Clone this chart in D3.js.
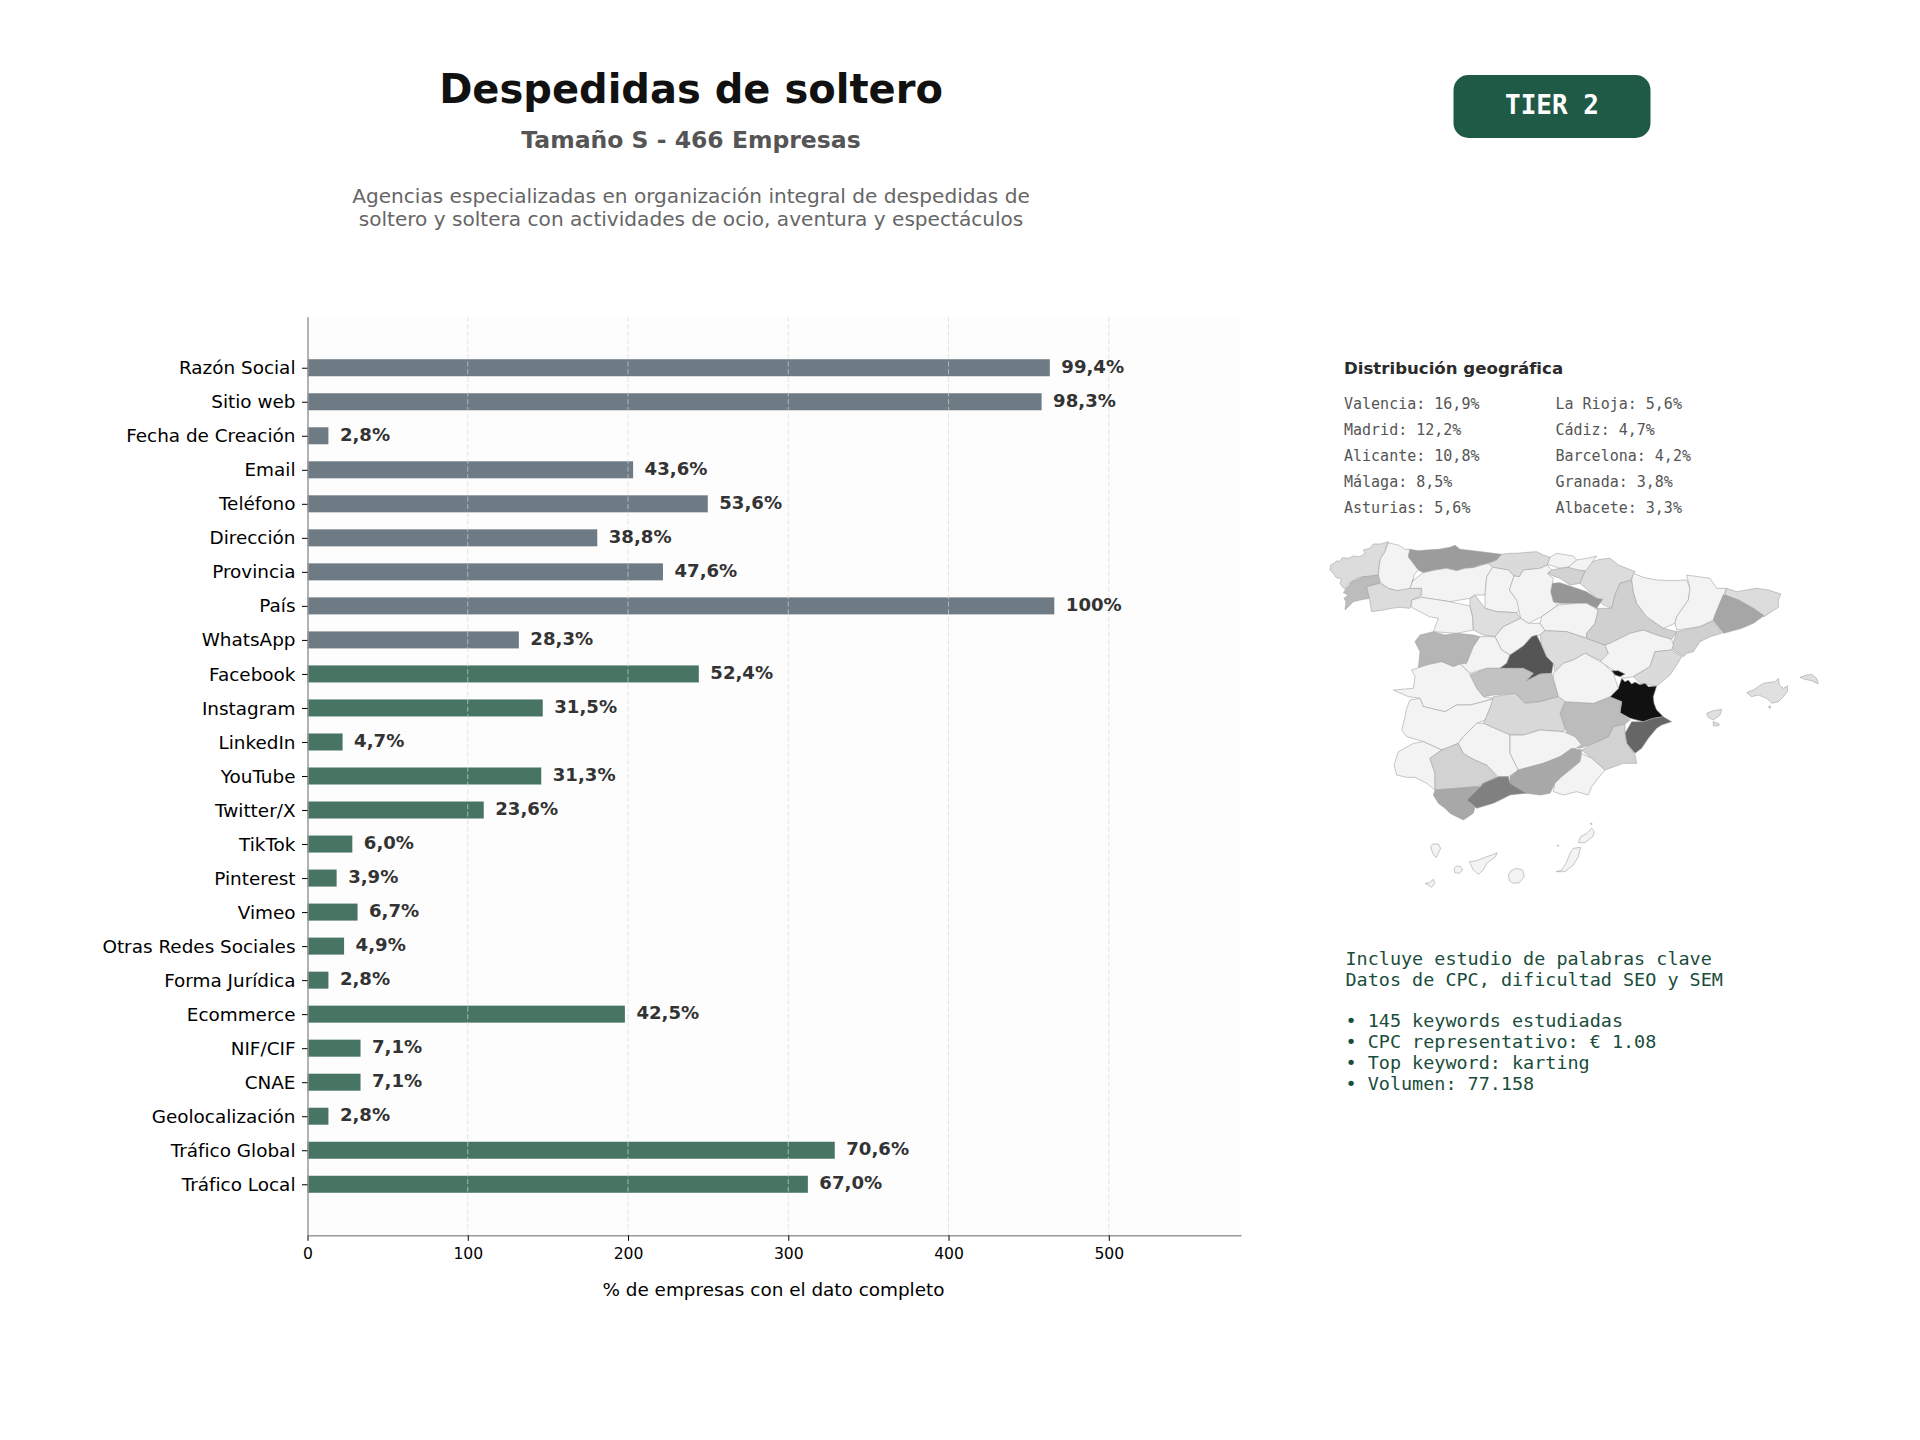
<!DOCTYPE html>
<html lang="es">
<head>
<meta charset="utf-8">
<title>Despedidas de soltero</title>
<script src="https://cdn.jsdelivr.net/npm/d3@7"></script>
<style>
  html, body { margin: 0; padding: 0; background: #fff; }
  svg { display: block; font-family: "DejaVu Sans", sans-serif; }
  .mono { font-family: "DejaVu Sans Mono", monospace; }
</style>
</head>
<body>
<div id="chart"></div>
<script>
// Campos de la ficha y porcentaje de empresas con el dato completo
const totalEmpresas = 466;
const contactFields = ["Razón Social","Sitio web","Fecha de Creación","Email","Teléfono","Dirección","Provincia","País","WhatsApp"];
const contactPct = [99.4,98.3,2.8,43.6,53.6,38.8,47.6,100,28.3];
const contactLabels = ["99,4%","98,3%","2,8%","43,6%","53,6%","38,8%","47,6%","100%","28,3%"];
const digitalFields = ["Facebook","Instagram","LinkedIn","YouTube","Twitter/X","TikTok","Pinterest","Vimeo","Otras Redes Sociales","Forma Jurídica","Ecommerce","NIF/CIF","CNAE","Geolocalización","Tráfico Global","Tráfico Local"];
const digitalPct = [52.4,31.5,4.7,31.3,23.6,6.0,3.9,6.7,4.9,2.8,42.5,7.1,7.1,2.8,70.6,67.0];
const digitalLabels = ["52,4%","31,5%","4,7%","31,3%","23,6%","6,0%","3,9%","6,7%","4,9%","2,8%","42,5%","7,1%","7,1%","2,8%","70,6%","67,0%"];
const xTicks = [0,100,200,300,400,500];

const geoLeft = ["Valencia: 16,9%","Madrid: 12,2%","Alicante: 10,8%","Málaga: 8,5%","Asturias: 5,6%"];
const geoRight = ["La Rioja: 5,6%","Cádiz: 4,7%","Barcelona: 4,2%","Granada: 3,8%","Albacete: 3,3%"];
const keywordLines = ["Incluye estudio de palabras clave","Datos de CPC, dificultad SEO y SEM","","• 145 keywords estudiadas","• CPC representativo: € 1.08","• Top keyword: karting","• Volumen: 77.158"];

// Contornos simplificados de las provincias, en unidades del lienzo del mapa (1560 x 1140)
const provinces = [
 ["A Coruña","#dcdcdc",[[62,135],[72,130],[80,122],[88,125],[97,113],[115,115],[130,108],[150,110],[165,100],[160,90],[180,85],[190,72],[212,72],[235,65],[228,80],[225,95],[212,115],[208,135],[205,165],[180,170],[160,170],[140,175],[125,185],[112,195],[105,208],[97,200],[90,190],[95,178],[78,172],[70,160],[60,150]]],
 ["Lugo","#f3f3f3",[[235,68],[250,72],[265,75],[285,88],[300,88],[295,110],[310,130],[325,150],[312,165],[310,178],[300,205],[280,212],[260,212],[235,205],[220,195],[208,180],[205,165],[208,135],[212,115],[225,95]]],
 ["Asturias","#9c9c9c",[[300,88],[325,92],[350,90],[385,88],[420,82],[435,76],[450,88],[470,90],[520,96],[575,103],[560,120],[535,130],[510,135],[490,143],[465,145],[440,152],[410,145],[375,150],[340,158],[325,150],[310,130],[295,110]]],
 ["Cantabria","#dadada",[[575,103],[600,100],[620,100],[650,97],[680,95],[700,105],[720,112],[712,135],[690,145],[640,150],[628,170],[612,168],[595,150],[548,142],[535,130],[560,120]]],
 ["Bizkaia","#f3f3f3",[[720,112],[740,100],[765,104],[790,108],[800,120],[780,140],[750,145],[720,135],[712,135]]],
 ["Gipuzkoa","#f3f3f3",[[800,120],[830,115],[860,108],[848,125],[838,152],[790,150],[775,142]]],
 ["Álava","#d2d2d2",[[725,150],[750,145],[775,142],[805,150],[825,155],[810,190],[780,195],[750,175],[735,170],[712,160]]],
 ["Navarra","#dcdcdc",[[848,125],[870,118],[900,115],[925,135],[950,145],[975,155],[962,180],[930,190],[915,225],[905,265],[880,255],[862,235],[810,190],[825,155]]],
 ["La Rioja","#969696",[[725,190],[750,188],[770,195],[800,205],[830,215],[860,235],[878,238],[860,265],[830,250],[800,250],[750,250],[730,245],[722,215]]],
 ["Pontevedra","#bcbcbc",[[125,185],[160,170],[205,165],[210,190],[170,200],[178,235],[150,240],[130,245],[105,270],[108,245],[102,235],[115,225],[100,218],[110,205]]],
 ["Ourense","#dcdcdc",[[170,200],[210,190],[235,205],[260,212],[300,205],[335,205],[330,230],[305,240],[300,265],[270,262],[245,265],[220,270],[185,275],[178,235]]],
 ["León","#f3f3f3",[[305,185],[340,158],[375,150],[410,145],[440,152],[465,145],[490,143],[535,130],[548,142],[530,170],[525,225],[495,225],[480,235],[420,245],[335,232],[335,205],[300,205],[310,178]]],
 ["Zamora","#f3f3f3",[[305,262],[305,240],[335,232],[420,245],[480,258],[488,290],[490,330],[440,340],[370,335],[385,295],[358,290]]],
 ["Palencia","#f3f3f3",[[548,142],[595,150],[612,168],[598,210],[620,240],[640,262],[620,278],[560,275],[525,265],[525,225],[530,170]]],
 ["Burgos","#f3f3f3",[[628,170],[640,150],[690,145],[712,135],[725,150],[712,160],[730,175],[722,215],[730,245],[745,255],[695,290],[655,310],[632,295],[620,240],[598,210],[612,168]]],
 ["Valladolid","#dedede",[[480,235],[495,225],[525,265],[560,275],[620,278],[632,295],[580,320],[555,350],[520,345],[490,330],[488,290],[480,258]]],
 ["Soria","#f3f3f3",[[745,255],[800,250],[830,250],[865,270],[855,310],[830,340],[830,355],[770,335],[705,332],[690,310],[695,290]]],
 ["Segovia","#f3f3f3",[[555,350],[580,320],[632,295],[655,310],[690,310],[705,332],[690,345],[665,350],[640,378],[600,405],[575,390]]],
 ["Salamanca","#b5b5b5",[[330,345],[370,335],[405,345],[440,340],[490,345],[510,350],[490,380],[470,430],[430,440],[395,425],[350,435],[325,445],[330,395],[315,365]]],
 ["Ávila","#f3f3f3",[[510,350],[555,350],[575,390],[600,405],[590,430],[568,445],[530,445],[480,460],[450,432],[470,430],[490,380]]],
 ["Madrid","#555555",[[680,345],[695,375],[710,410],[730,430],[725,460],[690,462],[648,483],[670,460],[640,445],[570,445],[590,430],[600,405],[640,378],[665,350]]],
 ["Guadalajara","#dcdcdc",[[690,345],[705,332],[770,335],[830,355],[885,375],[895,400],[880,425],[825,400],[790,420],[760,430],[735,455],[730,430],[710,410],[695,375]]],
 ["Zaragoza","#d0d0d0",[[905,265],[915,225],[930,190],[965,180],[970,215],[980,250],[1010,290],[1060,325],[1100,335],[1085,358],[1040,345],[1000,330],[960,340],[900,370],[885,375],[830,355],[830,340],[855,310],[865,270],[860,265]]],
 ["Huesca","#f3f3f3",[[965,180],[970,160],[1000,172],[1040,180],[1085,182],[1130,180],[1140,205],[1135,240],[1100,290],[1095,310],[1060,325],[1010,290],[980,250],[970,215]]],
 ["Lleida","#f3f3f3",[[1130,165],[1165,170],[1200,175],[1220,205],[1250,205],[1240,225],[1215,285],[1210,300],[1170,320],[1100,330],[1095,310],[1100,290],[1135,240],[1140,205]]],
 ["Girona","#dcdcdc",[[1250,205],[1280,215],[1310,210],[1340,205],[1375,210],[1412,222],[1405,240],[1405,262],[1385,275],[1362,290],[1330,265],[1285,240],[1245,225]]],
 ["Barcelona","#a6a6a6",[[1245,225],[1285,240],[1330,265],[1362,287],[1330,310],[1295,325],[1240,340],[1225,320],[1210,300],[1215,285],[1240,225]]],
 ["Tarragona","#d0d0d0",[[1210,303],[1235,340],[1200,350],[1170,365],[1150,395],[1130,400],[1120,410],[1085,385],[1100,335],[1170,320]]],
 ["Teruel","#f3f3f3",[[885,375],[900,370],[960,340],[1000,330],[1040,345],[1085,358],[1090,375],[1085,390],[1035,395],[1020,440],[970,470],[940,475],[910,450],[870,425],[895,400]]],
 ["Castellón","#dadada",[[1035,395],[1085,390],[1115,410],[1100,435],[1080,465],[1040,498],[990,490],[970,470],[1020,440]]],
 ["Valencia","#111111",[[935,475],[945,485],[955,480],[965,492],[975,486],[990,494],[1005,490],[1015,500],[1040,498],[1030,530],[1032,550],[1040,570],[1060,590],[1030,595],[1000,605],[960,595],[930,578],[935,545],[900,530],[925,505]]],
 ["Rincón de Ademuz","#111111",[[905,452],[925,452],[945,462],[930,470],[915,465]]],
 ["Alicante","#666666",[[965,605],[1000,605],[1030,595],[1060,590],[1085,605],[1055,615],[1040,625],[1015,655],[995,685],[975,700],[950,670],[945,640]]],
 ["Murcia","#d2d2d2",[[910,620],[945,610],[945,640],[950,670],[975,705],[980,730],[940,730],[885,750],[845,715],[815,690],[850,670],[895,650]]],
 ["Albacete","#bcbcbc",[[765,545],[850,550],[900,532],[935,545],[930,578],[960,600],[945,612],[910,620],[895,650],[850,670],[810,685],[790,680],[765,625],[750,580]]],
 ["Cuenca","#f3f3f3",[[730,460],[760,430],[790,420],[825,400],[880,430],[910,460],[925,505],[900,530],[850,550],[765,545],[745,530],[730,475]]],
 ["Toledo","#c2c2c2",[[480,465],[530,445],[640,445],[670,460],[648,483],[690,462],[725,460],[730,480],[745,530],[690,545],[640,548],[615,520],[550,525],[520,530],[500,505]]],
 ["Cáceres","#f3f3f3",[[305,450],[350,435],[395,425],[430,440],[450,432],[480,460],[480,465],[500,505],[520,530],[550,535],[520,545],[480,555],[440,555],[405,575],[340,560],[330,535],[295,530],[250,510],[310,505],[315,470]]],
 ["Badajoz","#f3f3f3",[[300,540],[330,535],[340,560],[405,575],[440,555],[480,555],[520,545],[555,535],[540,565],[525,600],[500,610],[460,650],[445,670],[395,690],[340,665],[290,650],[275,630],[285,590],[290,565]]],
 ["Ciudad Real","#d8d8d8",[[550,530],[615,520],[645,550],[690,545],[745,530],[765,545],[750,580],[765,625],[760,635],[690,630],[640,645],[600,645],[520,610],[525,600],[540,565]]],
 ["Huelva","#f3f3f3",[[310,670],[340,665],[395,690],[360,715],[375,760],[375,810],[350,790],[315,772],[290,772],[260,765],[252,735],[265,695]]],
 ["Sevilla","#d2d2d2",[[395,690],[420,680],[445,670],[460,700],[485,715],[530,735],[560,770],[520,790],[500,800],[440,805],[375,810],[375,760],[360,715]]],
 ["Córdoba","#f3f3f3",[[460,650],[500,610],[520,610],[600,645],[600,700],[625,750],[595,770],[565,770],[530,735],[485,715],[460,700],[445,670]]],
 ["Jaén","#f3f3f3",[[600,645],[640,645],[690,630],[760,635],[795,650],[815,675],[750,710],[700,730],[625,750],[600,700]]],
 ["Granada","#a8a8a8",[[600,770],[625,750],[700,730],[750,710],[785,685],[815,690],[810,725],[780,750],[755,770],[735,790],[720,820],[690,825],[650,820],[600,790]]],
 ["Almería","#f3f3f3",[[815,700],[845,715],[885,750],[860,780],[845,800],[835,825],[800,815],[760,825],[730,815],[735,790],[755,770],[780,750],[810,725]]],
 ["Málaga","#808080",[[470,840],[510,800],[520,790],[565,770],[595,770],[600,790],[650,820],[625,822],[600,825],[575,838],[550,850],[500,865]]],
 ["Cádiz","#a8a8a8",[[370,825],[375,810],[440,805],[500,800],[510,800],[470,840],[495,860],[490,880],[460,900],[440,890],[420,880],[405,865],[385,850]]],
 ["Mallorca","#e0e0e0",[[1310,518],[1330,510],[1360,490],[1395,485],[1405,475],[1408,495],[1420,505],[1433,497],[1432,515],[1420,530],[1405,545],[1385,550],[1370,535],[1345,525],[1325,530]]],
 ["Cabrera","#e0e0e0",[[1375,560],[1382,558],[1380,566]]],
 ["Menorca","#e0e0e0",[[1470,472],[1490,465],[1505,463],[1520,475],[1525,492],[1505,482],[1485,478]]],
 ["Ibiza","#e0e0e0",[[1190,580],[1210,572],[1235,568],[1230,585],[1210,600],[1195,592]]],
 ["Formentera","#e0e0e0",[[1210,605],[1228,612],[1225,618],[1210,617]]],
 ["Gran Canaria","#f3f3f3",[[595,1065],[603,1052],[620,1045],[638,1050],[643,1070],[628,1088],[610,1090],[598,1082]]],
 ["Tenerife","#f3f3f3",[[478,1025],[500,1022],[525,1012],[545,1005],[562,998],[555,1012],[530,1030],[520,1050],[505,1063],[490,1050]]],
 ["La Gomera","#f3f3f3",[[432,1045],[440,1038],[452,1040],[458,1050],[448,1060],[435,1058]]],
 ["La Palma","#f3f3f3",[[362,980],[368,972],[385,972],[392,985],[385,1000],[378,1013],[368,1000]]],
 ["El Hierro","#f3f3f3",[[345,1090],[358,1088],[370,1078],[374,1090],[365,1102],[355,1095]]],
 ["Fuerteventura","#f3f3f3",[[738,1055],[755,1050],[768,1030],[780,1000],[790,985],[812,982],[805,1010],[790,1035],[765,1055]]],
 ["Lanzarote","#f3f3f3",[[805,968],[812,950],[830,940],[845,925],[853,935],[848,950],[825,968]]],
 ["Alegranza","#f3f3f3",[[840,910],[846,910],[845,915]]],
 ["Lobos","#f3f3f3",[[741,976],[746,976],[744,980]]]
];

const W = 1920, H = 1440;
const svg = d3.select("#chart").append("svg").attr("width", W).attr("height", H).attr("viewBox", `0 0 ${W} ${H}`);

// Cabecera
const header = [
  {t:"Despedidas de soltero", y:103, size:40, weight:"bold", fill:"#111111"},
  {t:"Tamaño S - 466 Empresas", y:148, size:23.5, weight:"bold", fill:"#555555"},
  {t:"Agencias especializadas en organización integral de despedidas de", y:203, size:20.1, weight:"normal", fill:"#666666"},
  {t:"soltero y soltera con actividades de ocio, aventura y espectáculos", y:226, size:20.1, weight:"normal", fill:"#666666"}
];
svg.append("g").selectAll("text").data(header).join("text")
  .attr("x", 691).attr("y", d => d.y).attr("text-anchor", "middle")
  .attr("font-size", d => d.size).attr("font-weight", d => d.weight).attr("fill", d => d.fill)
  .text(d => d.t);

// Etiqueta del nivel
const tier = svg.append("g");
tier.append("rect").attr("x", 1453.5).attr("y", 75).attr("width", 197).attr("height", 63).attr("rx", 15).attr("fill", "#1f5a46");
tier.append("text").attr("class", "mono").attr("x", 1552).attr("y", 114).attr("text-anchor", "middle")
  .attr("font-size", 26).attr("font-weight", "bold").attr("fill", "#ffffff").text("TIER 2");

// Gráfico de barras
const categories = contactFields.concat(digitalFields);
const pct = contactPct.concat(digitalPct);
const labels = contactLabels.concat(digitalLabels);
const rows = categories.map((c, i) => ({
  c, pct: pct[i], label: labels[i], group: i < contactFields.length ? "contact" : "digital"
}));
const plot = {left: 307.5, right: 1241, top: 316.7, bottom: 1235.3};
const x = d3.scaleLinear().domain([0, totalEmpresas * 1.25]).range([plot.left, plot.right]);
const y = d3.scalePoint().domain(categories).range([plot.top, plot.bottom]).padding(1.5);
const barH = y.step() * 0.5;
const colour = d3.scaleOrdinal().domain(["contact","digital"]).range(["#6e7b85","#487563"]);

const g = svg.append("g");
g.append("rect").attr("x", plot.left).attr("y", plot.top).attr("width", plot.right - plot.left)
  .attr("height", plot.bottom - plot.top).attr("fill", "#fdfdfd");

g.append("g").selectAll("rect").data(rows).join("rect")
  .attr("x", x(0))
  .attr("y", d => y(d.c) - barH / 2)
  .attr("width", d => x(d.pct / 100 * totalEmpresas) - x(0))
  .attr("height", barH)
  .attr("fill", d => colour(d.group));

// Rejilla vertical discontinua, visible también sobre las barras
g.append("g").selectAll("line").data(xTicks.slice(1)).join("line")
  .attr("x1", d => x(d)).attr("x2", d => x(d)).attr("y1", plot.top).attr("y2", plot.bottom)
  .attr("stroke", "#d8d8d8").attr("stroke-width", 1).attr("stroke-dasharray", "5 2.5").attr("opacity", 0.65);

g.append("g").selectAll("text").data(rows).join("text")
  .attr("x", d => x(d.pct / 100 * totalEmpresas) + 11.5)
  .attr("y", d => y(d.c) + 5)
  .attr("font-size", 18.1).attr("font-weight", "bold").attr("fill", "#333333")
  .text(d => d.label);

const xAxis = g.append("g").attr("transform", `translate(0,${plot.bottom})`)
  .call(d3.axisBottom(x).tickValues(xTicks).tickSize(5.5).tickSizeOuter(0).tickPadding(7));
xAxis.selectAll("text").attr("font-size", 15.6).attr("font-family", '"DejaVu Sans", sans-serif').attr("fill", "#000");
xAxis.select(".domain").attr("stroke", "#999999").attr("stroke-width", 1.5);

const yAxis = g.append("g").attr("transform", `translate(${plot.left},0)`)
  .call(d3.axisLeft(y).tickSize(5.5).tickSizeOuter(0).tickPadding(6.5));
yAxis.selectAll("text").attr("font-size", 18.4).attr("font-family", '"DejaVu Sans", sans-serif').attr("fill", "#000").attr("dy", "0.33em");
yAxis.select(".domain").attr("stroke", "#999999").attr("stroke-width", 1.5);

g.append("text").attr("x", 773.5).attr("y", 1296).attr("text-anchor", "middle")
  .attr("font-size", 18.4).attr("fill", "#000").text("% de empresas con el dato completo");

// Distribución geográfica
const geo = svg.append("g");
geo.append("text").attr("x", 1344).attr("y", 373.5).attr("font-size", 16.6).attr("font-weight", "bold").attr("fill", "#2b2b2b").text("Distribución geográfica");
[[geoLeft, 1344], [geoRight, 1555.5]].forEach(([col, cx]) => {
  geo.append("g").selectAll("text").data(col).join("text").attr("class", "mono")
    .attr("x", cx).attr("y", (d, i) => 408.5 + i * 26).attr("font-size", 15).attr("fill", "#555555").text(d => d);
});

// Mapa de provincias
const mapX = d3.scaleLinear().domain([0, 1560]).range([1310, 1830]);
const mapY = d3.scaleLinear().domain([0, 1140]).range([520, 900]);
const ring = d3.line().x(d => mapX(d[0])).y(d => mapY(d[1])).curve(d3.curveLinearClosed);
svg.append("g").selectAll("path").data(provinces).join("path")
  .attr("d", d => ring(d[2])).attr("fill", d => d[1])
  .attr("stroke", "#a2a2a2").attr("stroke-width", 0.6).attr("stroke-linejoin", "round");

// Nota sobre palabras clave
svg.append("g").selectAll("text").data(keywordLines).join("text").attr("class", "mono")
  .attr("x", 1345.5).attr("y", (d, i) => 965 + i * 20.75).attr("font-size", 18.45).attr("fill", "#1a4d3c").text(d => d);
</script>
</body>
</html>
